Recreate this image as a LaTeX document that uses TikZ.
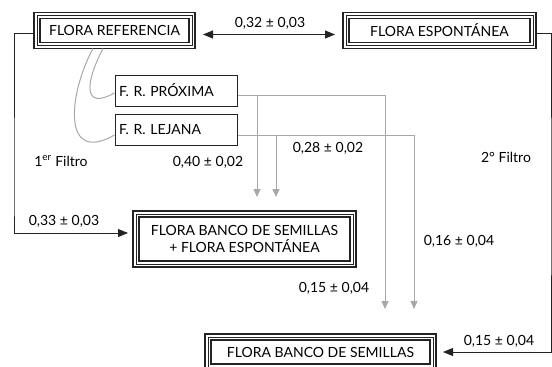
\documentclass[tikz,border=0pt]{standalone}
\usepackage{fontspec}
\setmainfont{Lato}
\usetikzlibrary{arrows.meta}
\definecolor{lgray}{RGB}{168,168,168}
\definecolor{ink}{RGB}{35,35,35}
\begin{document}
\begin{tikzpicture}[x=1pt,y=-1pt, font=\fontsize{14}{17}\selectfont,
  triple/.style={draw=ink, line width=1.1pt, minimum height=24pt, inner sep=0pt, outer sep=6pt, align=center},
  single/.style={draw=ink, line width=1pt, text width=114pt, minimum height=31pt, inner sep=4pt, align=left},
  blk/.style={draw=ink, line width=0.9pt, -{Triangle[length=10pt,width=8pt]}},
  gry/.style={draw=lgray, line width=1pt, -{Triangle[length=8pt,width=7pt]}},
  gline/.style={draw=lgray, line width=1pt},
  lbl/.style={inner sep=0pt}]
\useasboundingbox (0,0) rectangle (552,367);
\node[triple, minimum width=149pt] (fr) at (114.5,30.5) {FLORA REFERENCIA};
\node[triple, minimum width=181pt] (fe) at (439.5,30.5) {FLORA ESPONTÁNEA};
\node[triple, minimum width=211pt, minimum height=44pt] (fbe) at (244.5,239) {FLORA BANCO DE SEMILLAS\\+ FLORA ESPONTÁNEA};
\node[triple, minimum width=219pt] (fb) at (320.5,352) {FLORA BANCO DE SEMILLAS};
\node[single] (frp) at (176,90.5) {F. R. PRÓXIMA};
\node[single] (frl) at (176,129.5) {F. R. LEJANA};
\foreach \n in {fr,fe,fbe,fb}{
  \draw[ink, line width=1.1pt] (\n.north west) rectangle (\n.south east);
  \draw[ink, line width=0.7pt] ([shift={(3pt,-3pt)}]\n.north west) rectangle ([shift={(-3pt,3pt)}]\n.south east);
}
% black connectors
\draw[blk, {Triangle[length=10pt,width=8pt]}-{Triangle[length=10pt,width=8pt]}, shorten >=8pt, shorten <=8pt]
  ([yshift=-4pt]fr.east) -- ([yshift=-4pt]fe.west);
\coordinate (lc) at (14,200);
\coordinate (rc) at (551,200);
\draw[blk, shorten >=5pt] ([yshift=-2.5pt]fr.west) -| (lc) |- ([yshift=6pt]fbe.west);
\draw[blk, shorten >=7pt] ([yshift=-2.5pt]fe.east) -| (rc) |- (fb.east);
% gray connectors
\coordinate (p1) at (257,197);
\coordinate (p2) at (385,309);
\coordinate (q1) at (276,197);
\coordinate (q2) at (414,309);
\draw[gry] ([yshift=-5pt]frp.east) -| (p2);
\draw[gry] ([yshift=-5pt]frp.east) -| (p1);
\draw[gry] ([yshift=-5.5pt]frl.east) -| (q2);
\draw[gry] ([yshift=-5.5pt]frl.east) -| (q1);
\draw[gline] ([xshift=-11.5pt]fr.south) .. controls (84,85) and (84,110) .. ([yshift=-2.5pt]frp.west);
\draw[gline] ([xshift=-21.5pt]fr.south) .. controls (68,95) and (62,165) .. ([yshift=-5.5pt]frl.west);
% labels
\node[lbl] (t1) at (270,23) {0,32 ± 0,03};
\node[lbl] (t2) at (64,221) {0,33 ± 0,03};
\node[lbl] (t3) at (61,161) {1\textsuperscript{er} Filtro};
\node[lbl] (t4) at (208,162) {0,40 ± 0,02};
\node[lbl] (t5) at (328,148) {0,28 ± 0,02};
\node[lbl] (t6) at (506,157) {2° Filtro};
\node[lbl] (t7) at (459,241) {0,16 ± 0,04};
\node[lbl] (t8) at (334,288) {0,15 ± 0,04};
\node[lbl] (t9) at (499,341) {0,15 ± 0,04};
\end{tikzpicture}
\end{document}
